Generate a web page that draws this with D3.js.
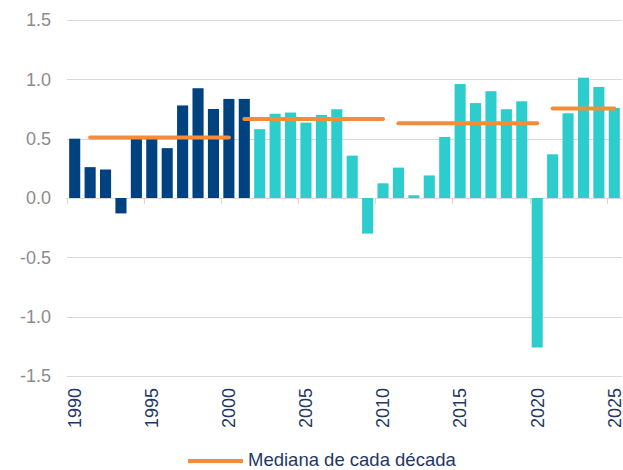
<!DOCTYPE html>
<html>
<head>
<meta charset="utf-8">
<script src="https://cdn.jsdelivr.net/npm/d3@7"></script>
<style>
  body { margin: 0; background: #fff; }
  svg { display: block; font-family: "Liberation Sans", Arial, sans-serif; }
</style>
</head>
<body>
<div id="chart"></div>
<script>
const years = d3.range(1990, 2026);
const values = [
  0.50, 0.26, 0.24, -0.13, 0.50, 0.50, 0.42, 0.78, 0.925, 0.75,
  0.835, 0.835, 0.58, 0.71, 0.72, 0.635, 0.70, 0.748, 0.357, -0.30,
  0.124, 0.256, 0.023, 0.19, 0.514, 0.96, 0.80, 0.90, 0.748, 0.815,
  -1.26, 0.368, 0.714, 1.014, 0.936, 0.759
];
const lastDarkYear = 2001;

const medianFrom  = [1991, 2001, 2011, 2021];
const medianTo    = [2000, 2010, 2020, 2025];
const medianValue = [0.51, 0.665, 0.63, 0.755];

const yTicks = [-1.5, -1.0, -0.5, 0, 0.5, 1.0, 1.5];
const xTickYears = [1990, 1995, 2000, 2005, 2010, 2015, 2020, 2025];
const legendLabel = 'Mediana de cada década';

const width = 623, height = 470;
const margin = {top: 20, right: 1, bottom: 94, left: 67};

const DARK = '#00427f', CYAN = '#2ecdcd', ORANGE = '#f68b3a';

const svg = d3.select('#chart').append('svg')
  .attr('width', width)
  .attr('height', height);

const x = d3.scaleBand()
  .domain(years)
  .range([margin.left, width - margin.right])
  .paddingInner(0.28)
  .paddingOuter(0.14);

const y = d3.scaleLinear()
  .domain([-1.5, 1.5])
  .range([height - margin.bottom, margin.top]);

const gap = (x.step() - x.bandwidth()) / 2;

// gridlines
svg.append('g')
  .selectAll('line')
  .data(yTicks)
  .join('line')
  .attr('x1', margin.left)
  .attr('x2', width - margin.right)
  .attr('y1', d => Math.round(y(d)) + 0.5)
  .attr('y2', d => Math.round(y(d)) + 0.5)
  .attr('stroke', '#d9d9d9')
  .attr('stroke-width', 1);

// y labels
svg.append('g')
  .selectAll('text')
  .data(yTicks)
  .join('text')
  .attr('x', 51)
  .attr('y', d => y(d))
  .attr('dy', '0.35em')
  .attr('text-anchor', 'end')
  .attr('fill', '#8c8c8c')
  .attr('font-size', 18)
  .text(d => d.toFixed(1));

// bars
svg.append('g')
  .selectAll('rect')
  .data(years)
  .join('rect')
  .attr('x', d => x(d))
  .attr('width', x.bandwidth())
  .attr('y', (d, i) => y(Math.max(0, values[i])))
  .attr('height', (d, i) => Math.abs(y(values[i]) - y(0)))
  .attr('fill', d => d <= lastDarkYear ? DARK : CYAN);

// ticks on the zero line
svg.append('g')
  .selectAll('line')
  .data(xTickYears)
  .join('line')
  .attr('x1', d => Math.round(x(d) - gap) + 0.5)
  .attr('x2', d => Math.round(x(d) - gap) + 0.5)
  .attr('y1', y(0))
  .attr('y2', y(0) + 6)
  .attr('stroke', '#d9d9d9');

// median lines
svg.append('g')
  .selectAll('line')
  .data(medianValue)
  .join('line')
  .attr('x1', (d, i) => x(medianFrom[i]) + x.bandwidth() / 2)
  .attr('x2', (d, i) => x(medianTo[i]) + x.bandwidth() / 2)
  .attr('y1', d => y(d))
  .attr('y2', d => y(d))
  .attr('stroke', ORANGE)
  .attr('stroke-width', 4)
  .attr('stroke-linecap', 'round');

// x labels, rotated
svg.append('g')
  .selectAll('text')
  .data(xTickYears)
  .join('text')
  .attr('transform', d => `translate(${x(d) + x.bandwidth() / 2}, ${y(-1.5) + 12}) rotate(-90)`)
  .attr('text-anchor', 'end')
  .attr('dy', '0.35em')
  .attr('fill', '#1f3864')
  .attr('font-size', 18)
  .text(d => d);

// legend
const legend = svg.append('g').attr('transform', 'translate(188, 461)');
legend.append('line')
  .attr('x1', 0).attr('x2', 55)
  .attr('stroke', ORANGE)
  .attr('stroke-width', 4);
legend.append('text')
  .attr('x', 60)
  .attr('y', 5)
  .attr('fill', '#1f3864')
  .attr('font-size', 18.5)
  .text(legendLabel);
</script>
</body>
</html>
